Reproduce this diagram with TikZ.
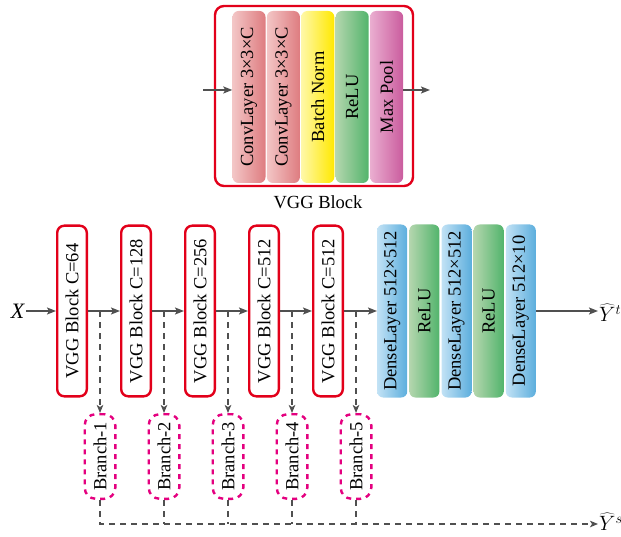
\documentclass[tikz,border=0pt]{standalone}
\usepackage{fontspec}
\setmainfont{Liberation Serif}
\usetikzlibrary{arrows.meta, positioning, calc}

\definecolor{framered}{HTML}{E2001A}
\definecolor{branchpink}{HTML}{E4007F}
\definecolor{flowgray}{HTML}{505050}
\definecolor{convA}{HTML}{F3C6C6}
\definecolor{convB}{HTML}{DE7C80}
\definecolor{normA}{HTML}{FFF8A8}
\definecolor{normB}{HTML}{FFE800}
\definecolor{reluA}{HTML}{B4D6AE}
\definecolor{reluB}{HTML}{52B46C}
\definecolor{poolA}{HTML}{EAAED0}
\definecolor{poolB}{HTML}{CA5C9E}
\definecolor{denseA}{HTML}{C2E2F5}
\definecolor{denseB}{HTML}{5CAEDD}

\newcommand{\vtext}[1]{\rotatebox{90}{#1}}
\newcommand{\fsz}{\fontsize{18.5}{20}\selectfont}
\newcommand{\bigfsz}{\fontsize{22}{24}\selectfont}

\begin{document}
\begin{tikzpicture}[
    x=1pt, y=1pt, font=\fsz,
    layer/.style={rectangle, rounded corners=6pt, inner sep=0pt, minimum width=33pt, minimum height=172pt},
    conv/.style={layer, left color=convA, right color=convB},
    norm/.style={layer, left color=normA, right color=normB},
    relu/.style={layer, left color=reluA, right color=reluB},
    pool/.style={layer, left color=poolA, right color=poolB},
    dense/.style={layer, minimum width=30pt, minimum height=173pt, left color=denseA, right color=denseB},
    vggframe/.style={rectangle, draw=framered, line width=2.4pt, rounded corners=9pt, minimum width=198pt, minimum height=180pt},
    vggblock/.style={rectangle, draw=framered, line width=2.4pt, rounded corners=7pt, inner sep=0pt, minimum width=29.6pt, minimum height=170.6pt},
    branch/.style={rectangle, draw=branchpink, line width=2.4pt, dash pattern=on 5pt off 5pt, rounded corners=11pt, inner sep=0pt, minimum width=30.6pt, minimum height=84.6pt},
    io/.style={inner sep=1pt, font=\bigfsz},
    line/.style={draw=flowgray, line width=1.8pt, -{Stealth[length=9pt, width=7pt, inset=2pt]}},
    dline/.style={draw=flowgray, line width=1.6pt, dash pattern=on 6pt off 5pt},
    darrow/.style={dline, -{Stealth[length=8pt, width=6.5pt, inset=2pt]}}
]
\useasboundingbox (0,0) rectangle (621,-537);

% VGG block detail
\node [vggframe] (vgg) at (314,-96) {};
\node [conv] (conv1) at (249,-97) {\vtext{ConvLayer 3×3×C}};
\node [conv, right=1pt of conv1] (conv2) {\vtext{ConvLayer 3×3×C}};
\node [norm, right=1pt of conv2] (bn) {\vtext{Batch Norm}};
\node [relu, right=1pt of bn] (act) {\vtext{ReLU}};
\node [pool, right=1pt of act] (pool) {\vtext{Max Pool}};
\node (vgglabel) at (318,-202) {VGG Block};

\coordinate (vin) at (203,-90);
\coordinate (vout) at (430,-90);
\path [line] (vin) -- (vin -| conv1.west);
\path [line] (vin -| pool.east) -- (vout);

% main network
\node [io] (x) at (18,-311) {\textit{X}};
\node [vggblock] (blk1) at (72,-311) {\vtext{VGG Block C=64}};
\node [vggblock, right=32pt of blk1] (blk2) {\vtext{VGG Block C=128}};
\node [vggblock, right=32pt of blk2] (blk3) {\vtext{VGG Block C=256}};
\node [vggblock, right=32pt of blk3] (blk4) {\vtext{VGG Block C=512}};
\node [vggblock, right=32pt of blk4] (blk5) {\vtext{VGG Block C=512}};
\node [dense, right=33pt of blk5] (fc1) {\vtext{DenseLayer 512×512}};
\node [relu, minimum width=30pt, minimum height=173pt, right=1.75pt of fc1] (act1) {\vtext{ReLU}};
\node [dense, right=1.75pt of act1] (fc2) {\vtext{DenseLayer 512×512}};
\node [relu, minimum width=30pt, minimum height=173pt, right=1.75pt of fc2] (act2) {\vtext{ReLU}};
\node [dense, right=1.75pt of act2] (fc3) {\vtext{DenseLayer 512×10}};
\node [io, anchor=west] (yt) at (598,-313) {$\widehat{Y}^{t}$};

\path [line] (x) -- (blk1);
\path [line] (blk1) -- (blk2);
\path [line] (blk2) -- (blk3);
\path [line] (blk3) -- (blk4);
\path [line] (blk4) -- (blk5);
\path [line] (blk5) -- (fc1);
\path [line] (fc3) -- (fc3 -| yt.west);

% early-exit branches
\foreach \i in {1,...,5} {
    \coordinate (tap\i) at ([xshift=12pt]blk\i.east);
    \node [branch] (br\i) at (tap\i |- 0,-456.5) {\vtext{Branch-\i}};
    \path [darrow] (tap\i) -- (br\i.north);
}

\node [io, anchor=west] (ys) at (598,-522) {$\widehat{Y}^{s}$};
\coordinate (merge) at (br1.south |- 0,-524);
\path [darrow] (br1.south) -- (merge) -- (merge -| ys.west);
\foreach \i in {2,...,5}
    \path [dline] (br\i.south) -- (br\i.south |- merge);

\end{tikzpicture}
\end{document}
